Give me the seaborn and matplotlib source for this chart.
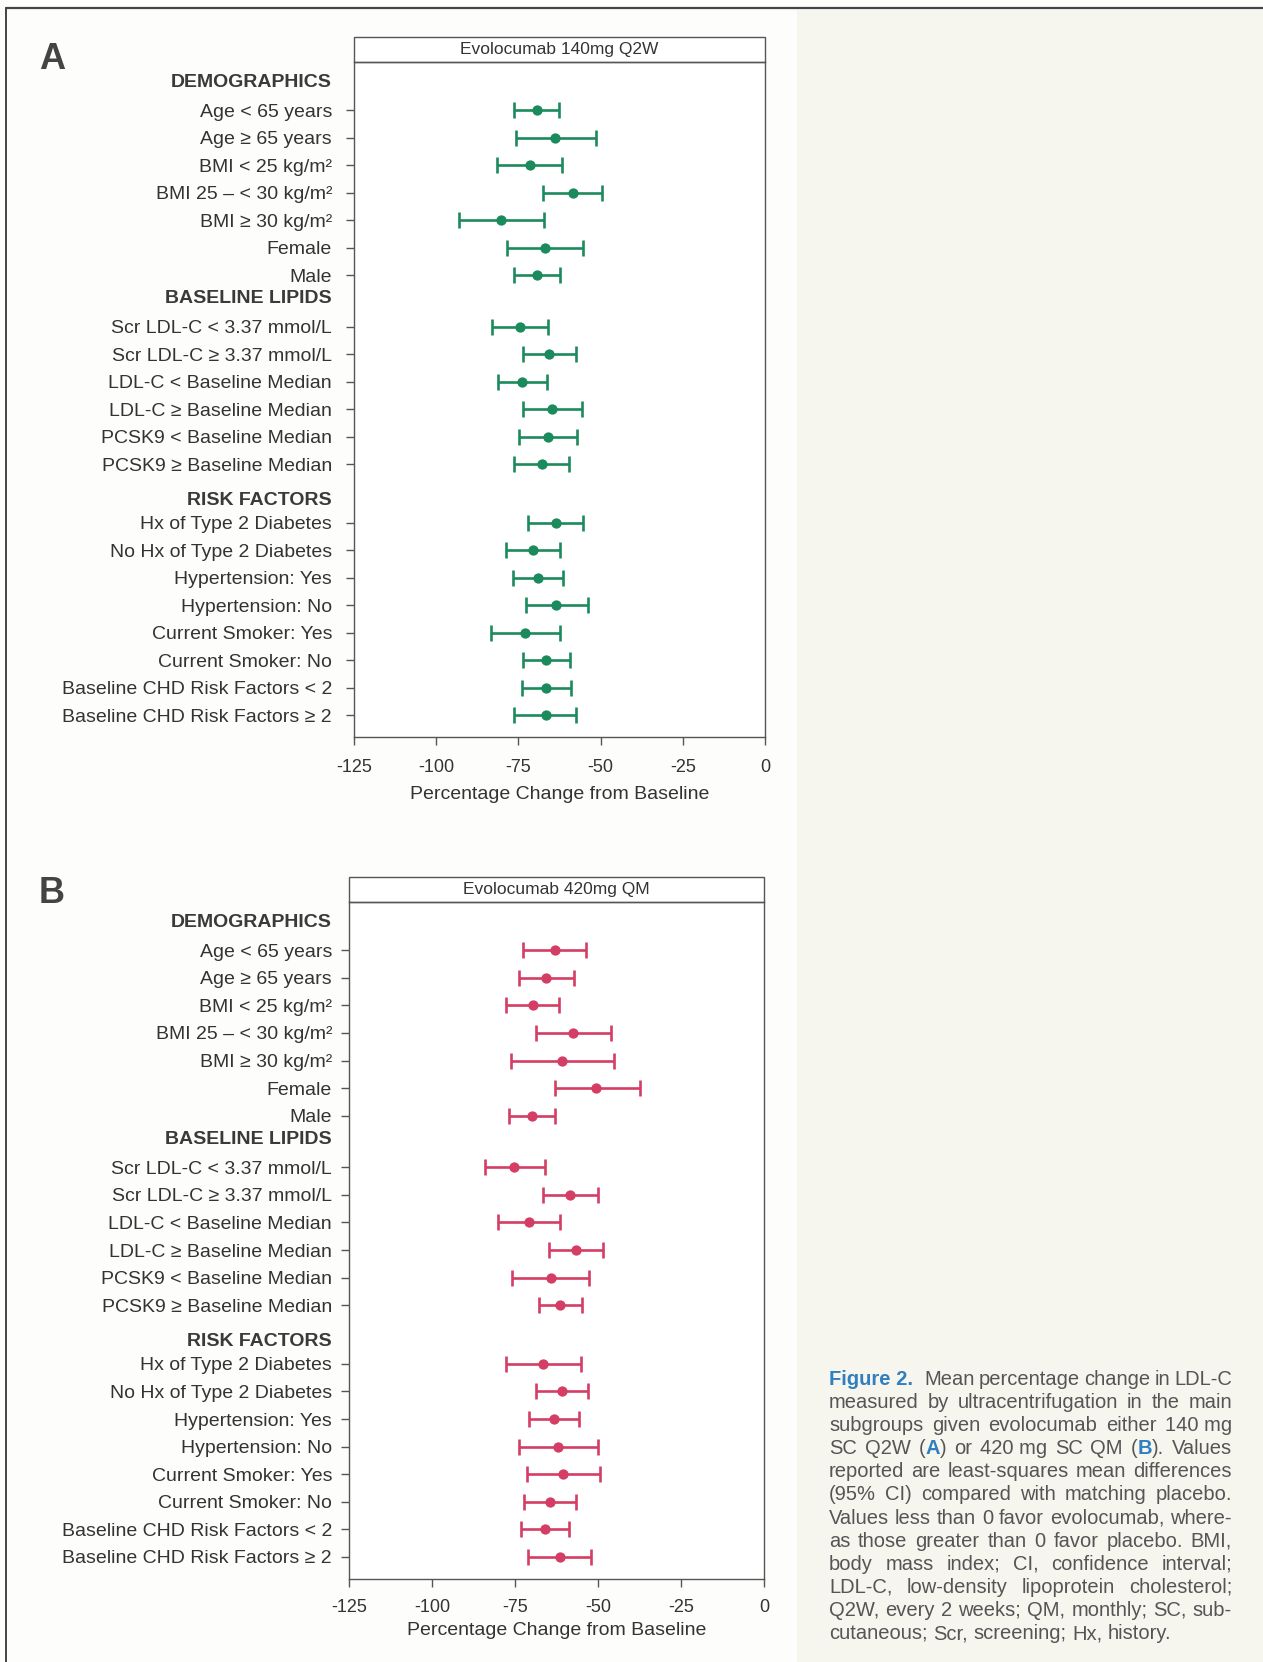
import numpy as np
import pandas as pd
import seaborn as sns
import matplotlib.pyplot as plt
from matplotlib.patches import Rectangle
from matplotlib.lines import Line2D

# ------------------------------
# data
# ------------------------------
groups = ["DEMOGRAPHICS", "BASELINE LIPIDS", "RISK FACTORS"]
demographics = ["Age < 65 years", "Age ≥ 65 years", "BMI < 25 kg/m²", "BMI 25 – < 30 kg/m²",
                "BMI ≥ 30 kg/m²", "Female", "Male"]
lipids = ["Scr LDL-C < 3.37 mmol/L", "Scr LDL-C ≥ 3.37 mmol/L", "LDL-C < Baseline Median",
          "LDL-C ≥ Baseline Median", "PCSK9 < Baseline Median", "PCSK9 ≥ Baseline Median"]
risk = ["Hx of Type 2 Diabetes", "No Hx of Type 2 Diabetes", "Hypertension: Yes", "Hypertension: No",
        "Current Smoker: Yes", "Current Smoker: No", "Baseline CHD Risk Factors < 2",
        "Baseline CHD Risk Factors ≥ 2"]

# Evolocumab 140mg Q2W
q2w_mean = [-69.2, -63.8, -71.5, -58.5, -80.3, -67.0, -69.4,
            -74.4, -65.6, -73.9, -64.7, -66.1, -67.9,
            -63.5, -70.5, -69.1, -63.6, -73.0, -66.5, -66.7, -66.7]
q2w_lo = [-76.4, -75.8, -81.5, -67.6, -93.0, -78.5, -76.4,
          -83.0, -73.6, -81.2, -73.5, -74.8, -76.2,
          -72.1, -78.9, -76.7, -72.6, -83.2, -73.5, -73.9, -76.2]
q2w_hi = [-62.6, -51.4, -61.8, -49.5, -67.3, -55.3, -62.3,
          -66.1, -57.6, -66.4, -55.6, -57.3, -59.7,
          -55.5, -62.3, -61.4, -53.9, -62.4, -59.4, -58.9, -57.4]

# Evolocumab 420mg QM
qm_mean = [-62.9, -65.7, -69.5, -57.5, -60.8, -50.5, -70.0,
           -75.2, -58.5, -70.7, -56.7, -64.3, -61.4,
           -66.5, -60.9, -63.4, -62.1, -60.6, -64.6, -66.0, -61.4]
qm_lo = [-72.7, -73.9, -77.6, -68.6, -76.3, -62.9, -76.7,
         -83.9, -66.7, -80.0, -64.9, -76.0, -67.9,
         -77.6, -68.8, -70.9, -73.9, -71.5, -72.4, -73.3, -71.2]
qm_hi = [-53.6, -57.1, -61.6, -46.1, -45.1, -37.5, -62.9,
         -65.9, -50.1, -61.5, -48.6, -52.8, -54.7,
         -55.1, -53.1, -55.8, -50.1, -49.5, -56.7, -58.8, -52.0]

x_ticks = [-125, -100, -75, -50, -25, 0]

caption_lines = [
    "Mean percentage change in LDL-C",
    "measured by ultracentrifugation in the main",
    "subgroups given evolocumab either 140~mg",
    "SC Q2W (*A*) or 420~mg SC QM (*B*). Values",
    "reported are least-squares mean differences",
    "(95% CI) compared with matching placebo.",
    "Values less than 0 favor evolocumab, where-",
    "as those greater than 0 favor placebo. BMI,",
    "body mass index; CI, confidence interval;",
    "LDL-C, low-density lipoprotein cholesterol;",
    "Q2W, every 2 weeks; QM, monthly; SC, sub-",
    "cutaneous; Scr, screening; Hx, history.",
]

# ------------------------------
# layout of rows (header rows + item rows)
# ------------------------------
item_labels = demographics + lipids + risk
header_pos = [0, 7.85, 15.2]
item_pos = ([1 + k for k in range(len(demographics))]
            + [8.87 + k for k in range(len(lipids))]
            + [16 + k for k in range(len(risk))])

sns.set_theme(style="ticks")
plt.rcParams['font.family'] = ['Liberation Sans', 'DejaVu Sans']
plt.rcParams['axes.unicode_minus'] = False
plt.rcParams['axes.edgecolor'] = '#555555'
plt.rcParams['axes.linewidth'] = 1.0

W, H = 1263, 1662
fig = plt.figure(figsize=(W / 100, H / 100), dpi=100)
fig.patch.set_facecolor('#fdfdfb')

# page decoration: cream caption column and frame lines
fig.add_artist(Rectangle((797 / W, 0), 1 - 797 / W, 1 - 10 / H, transform=fig.transFigure,
                         facecolor='#f6f5ee', edgecolor='none', zorder=0))
fig.add_artist(Line2D([6 / W, 1], [1 - 8 / H, 1 - 8 / H], transform=fig.transFigure,
                      color='#444444', lw=1.6))
fig.add_artist(Line2D([6 / W, 6 / W], [0, 1 - 8 / H], transform=fig.transFigure,
                      color='#444444', lw=1.4))


def forest(ax, mean, lo, hi, color, title, tick_pad, xpad, labelpad):
    df = pd.DataFrame({"label": item_labels, "pos": item_pos, "mean": mean, "lo": lo, "hi": hi})
    ax.set_facecolor('white')
    ax.errorbar(df["mean"], df["pos"], xerr=[df["mean"] - df["lo"], df["hi"] - df["mean"]],
                fmt="none", ecolor=color, elinewidth=1.9, capsize=6, capthick=1.9, zorder=2)
    sns.scatterplot(data=df, x="mean", y="pos", ax=ax, color=color, s=55, linewidth=0,
                    zorder=3, legend=False)
    ax.set_xlim(-125, 0)
    ax.set_ylim(23.8, -0.75)
    ax.set_xticks(x_ticks)
    ax.set_xticklabels([str(t) for t in x_ticks])
    ax.set_yticks(df["pos"])
    ax.set_yticklabels(df["label"])
    ax.tick_params(axis='y', length=6, width=1, pad=tick_pad, labelsize=14,
                   color='#555555', labelcolor='#333333')
    ax.tick_params(axis='x', length=6, width=1, pad=xpad, labelsize=13,
                   color='#555555', labelcolor='#333333')
    ax.set_xlabel("Percentage Change from Baseline", fontsize=14, labelpad=labelpad, color='#333333')
    ax.set_ylabel("")
    for name, p in zip(groups, header_pos):
        ax.annotate(name, xy=(0, p), xycoords=ax.get_yaxis_transform(),
                    xytext=(-(6 + tick_pad), 0), textcoords='offset points',
                    ha='right', va='center', fontweight='bold', fontsize=14, color='#3a3a3a')
    strip_h = 25 / ax.bbox.height
    ax.add_patch(Rectangle((0, 1), 1, strip_h, transform=ax.transAxes, clip_on=False,
                           facecolor='white', edgecolor='#555555', lw=1.0))
    ax.text(0.5, 1 + strip_h / 2, title, transform=ax.transAxes, ha='center', va='center',
            fontsize=12.5, color='#333333')


ax_a = fig.add_axes([354 / W, 1 - 737 / H, 411 / W, 674.7 / H])
forest(ax_a, q2w_mean, q2w_lo, q2w_hi, '#1b8a5c', "Evolocumab 140mg Q2W", 9.8, 10, 7)
ax_b = fig.add_axes([349 / W, 1 - 1579 / H, 415 / W, 677 / H])
forest(ax_b, qm_mean, qm_lo, qm_hi, '#d43d64', "Evolocumab 420mg QM", 6.2, 8.5, 4)

fig.text(39 / W, 1 - 69 / H, "A", fontsize=26, fontweight='bold', color='#444444', va='baseline')
fig.text(39 / W, 1 - 903 / H, "B", fontsize=26, fontweight='bold', color='#444444', va='baseline')

# ------------------------------
# caption, justified word by word
# ------------------------------
blue = '#2f7fc1'
cap_size = 14.5
fig.text(829 / W, 1 - 1385 / H, "Figure 2.", fontsize=cap_size, fontweight='bold', color=blue,
         family=['Liberation Sans Narrow', 'Liberation Sans', 'DejaVu Sans'], va='baseline')

renderer = fig.canvas.get_renderer()
natural_gap = 0.278 * cap_size * 100 / 72
for i, line in enumerate(caption_lines):
    y = 1 - (1385 + 23.1 * i) / H
    x_left = 924 if i == 0 else 829
    x_right = 1232
    words = []
    for w in line.split(" "):
        segs = []
        for k, part in enumerate(w.split("*")):
            if part:
                bold = k % 2 == 1
                t = fig.text(0, y, part.replace("~", " "), fontsize=cap_size, va='baseline',
                             color=blue if bold else '#555555',
                             fontweight='bold' if bold else 'normal')
                segs.append((t, t.get_window_extent(renderer=renderer).width))
        words.append(segs)
    total = sum(wd for segs in words for _, wd in segs)
    if i == len(caption_lines) - 1:
        gap = natural_gap
    else:
        gap = (x_right - x_left - total) / (len(words) - 1)
    x = x_left
    for segs in words:
        for t, wd in segs:
            t.set_x(x / W)
            x += wd
        x += gap

fig.savefig("out.png", dpi=100)
